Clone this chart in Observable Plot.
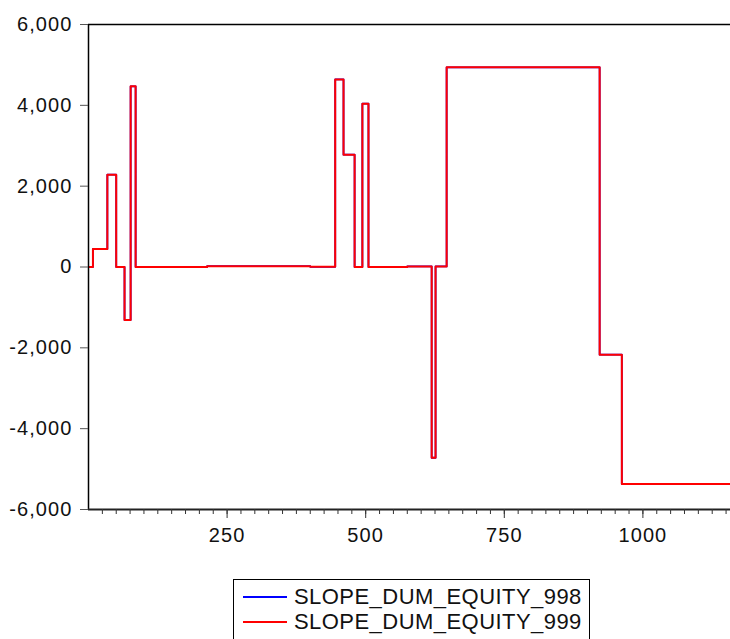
<!DOCTYPE html>
<html><head><meta charset="utf-8">
<script src="https://cdn.jsdelivr.net/npm/d3@7"></script>
<script src="https://cdn.jsdelivr.net/npm/@observablehq/plot@0.6"></script>
<style>
body{margin:0;background:#fff;width:730px;height:639px;overflow:hidden;position:relative;font-family:"Liberation Sans",Arial,sans-serif}
#chart svg text{font-family:"Liberation Sans",Arial,sans-serif !important;font-size:20px !important;letter-spacing:1.1px;fill:#111}
#legend{position:absolute;left:233px;top:579px;width:357px;height:80px;border:1px solid #000;box-sizing:border-box;background:#fff}
.sw{position:absolute;left:9px;width:44px;height:2px}
.lab{position:absolute;left:60px;font-size:22px;letter-spacing:0.45px;color:#111;white-space:nowrap;line-height:1}
</style></head>
<body>
<div id="chart"></div>
<div id="legend"></div>
<script>
// Change points (observation index) and the value held from each point onward
const idx    = [1, 8, 34, 50, 65, 76, 85, 214, 400, 445, 460, 480, 494, 505, 575, 619, 626, 646, 922, 962, 1158];
const eq998  = [0, 445, 2285, 0, -1310, 4470, 0, 20, 5, 4640, 2780, 0, 4040, 0, 15, -4720, 15, 4940, -2170, -5370, -5370];
const eq999  = [0, 445, 2285, 0, -1310, 4470, 0, 20, 5, 4640, 2780, 0, 4040, 0, 15, -4720, 15, 4940, -2170, -5370, -5370];
const seriesNames = ["SLOPE_DUM_EQUITY_998", "SLOPE_DUM_EQUITY_999"];
const seriesColors = ["#0000ff", "#ff0000"];
const yTicks = [-6000, -4000, -2000, 0, 2000, 4000, 6000];
const xTicks = [250, 500, 750, 1000];
const xMinorTicks = d3.range(25, 1158, 25);

const d998 = idx.map((x, i) => ({x, y: eq998[i]}));
const d999 = idx.map((x, i) => ({x, y: eq999[i]}));
const font = "Liberation Sans, Arial, sans-serif";
const fmtY = v => d3.format(",")(v).replace("\u2212", "-");

const chart = Plot.plot({
  width: 730,
  height: 570,
  marginLeft: 88,
  marginRight: 0,
  marginTop: 24,
  marginBottom: 61,
  style: {fontFamily: font, fontSize: "20px", background: "#fff", color: "#111"},
  x: {domain: [0, 1158], label: null},
  y: {domain: [-6000, 6000], label: null},
  marks: [
    Plot.ruleY([6000], {stroke: "#000", strokeWidth: 1.5}),
    Plot.line(d998, {x: "x", y: "y", curve: "step-after", stroke: seriesColors[0], strokeWidth: 1.8}),
    Plot.line(d999, {x: "x", y: "y", curve: "step-after", stroke: seriesColors[1], strokeWidth: 2}),
    Plot.ruleX([0], {stroke: "#000", strokeWidth: 1.5}),
    Plot.ruleY([-6000], {stroke: "#222", strokeWidth: 2}),
    Plot.axisY(yTicks, {tickSize: 8, tickPadding: 8, tickFormat: fmtY, fontSize: 20, fontFamily: font, stroke: "#555", label: null}),
    Plot.axisX(xMinorTicks, {tickSize: 5, tickFormat: () => "", stroke: "#333", label: null}),
    Plot.axisX(xTicks, {tickSize: 9, tickPadding: 9, fontSize: 20, fontFamily: font, stroke: "#333", tickFormat: d3.format("d"), label: null})
  ]
});
document.getElementById("chart").appendChild(chart);

const legend = document.getElementById("legend");
const rowCenters = [17, 42];
seriesNames.forEach((name, i) => {
  const sw = document.createElement("div");
  sw.className = "sw";
  sw.style.top = (rowCenters[i] - 1) + "px";
  sw.style.background = seriesColors[i];
  legend.appendChild(sw);
  const lab = document.createElement("div");
  lab.className = "lab";
  lab.style.top = (rowCenters[i] - 10.7) + "px";
  lab.textContent = name;
  legend.appendChild(lab);
});
</script>
</body></html>
